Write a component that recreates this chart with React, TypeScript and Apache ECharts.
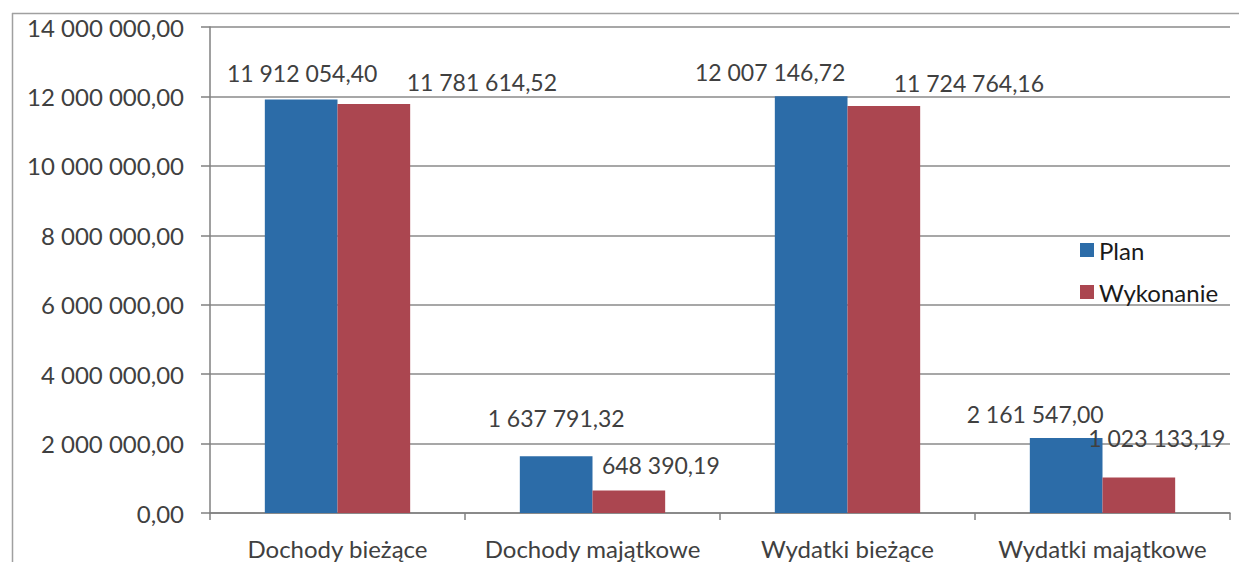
import React, { useEffect, useRef } from "react";
import * as echarts from "echarts";

const categories = ["Dochody bieżące", "Dochody majątkowe", "Wydatki bieżące", "Wydatki majątkowe"];
const planValues = [11912054.4, 1637791.32, 12007146.72, 2161547.0];
const wykonanieValues = [11781614.52, 648390.19, 11724764.16, 1023133.19];
const seriesNames = ["Plan", "Wykonanie"];

// label placement (offsets in px from default "top" position)
const planOffsets = [[1, -10], [0, -22], [-41, -8], [-31, -7]];
const wykOffsets = [[108, -6], [32, -9], [85, -6], [18, -23]];

const FONT = "Lato";
const TEXT = "#404040";

function fmt(v: number): string {
  const fixed = Math.abs(v).toFixed(2);
  const [intPart, dec] = fixed.split(".");
  const withSpaces = intPart.replace(/\B(?=(\d{3})+(?!\d))/g, " ");
  return (v < 0 ? "-" : "") + withSpaces + "," + dec;
}

export default function App() {
  const ref = useRef<HTMLDivElement>(null);
  useEffect(() => {
    if (!ref.current) return;
    const chart = echarts.init(ref.current, null, { renderer: "svg" });
    const mk = (vals: number[], offs: number[][]) =>
      vals.map((v, i) => ({ value: v, label: { offset: offs[i] } }));
    const labelStyle = {
      show: true,
      position: "top",
      fontFamily: FONT,
      fontSize: 23,
      color: TEXT,
      formatter: (p: any) => fmt(p.value),
    };
    chart.setOption({
      animation: false,
      textStyle: { fontFamily: FONT },
      graphic: [
        { type: "line", shape: { x1: 12, y1: 13.5, x2: 1239, y2: 13.5 }, style: { stroke: "#a0a0a0", lineWidth: 1.5 } },
        { type: "line", shape: { x1: 12.5, y1: 13, x2: 12.5, y2: 562 }, style: { stroke: "#a0a0a0", lineWidth: 1.5 } },
      ],
      legend: {
        orient: "vertical",
        left: 1075,
        top: 233,
        itemWidth: 14,
        itemHeight: 14,
        itemGap: 18,
        icon: "rect",
        textStyle: { fontFamily: FONT, fontSize: 24, color: "#1a1a1a" },
        data: seriesNames,
      },
      grid: { left: 210, right: 9, top: 27, bottom: 49, containLabel: false },
      xAxis: {
        type: "category",
        data: categories,
        axisLine: { lineStyle: { color: "#808080", width: 1.5 } },
        axisTick: { show: true, length: 7, lineStyle: { color: "#808080", width: 1.5 } },
        axisLabel: { fontFamily: FONT, fontSize: 24, color: TEXT, margin: 23, interval: 0, hideOverlap: false },
      },
      yAxis: {
        type: "value",
        min: 0,
        max: 14000000,
        interval: 2000000,
        axisLine: { show: true, lineStyle: { color: "#808080", width: 1.5 } },
        axisTick: { show: true, length: 9, lineStyle: { color: "#808080", width: 1.5 } },
        splitLine: { lineStyle: { color: "#8a8a8a", width: 1.5 } },
        axisLabel: { fontFamily: FONT, fontSize: 24, color: TEXT, margin: 26, formatter: (v: number) => fmt(v) },
      },
      series: [
        {
          name: seriesNames[0],
          type: "bar",
          data: mk(planValues, planOffsets),
          barGap: "0%",
          barCategoryGap: "43%",
          itemStyle: { color: "#2c6ca8" },
          label: labelStyle,
        },
        {
          name: seriesNames[1],
          type: "bar",
          data: mk(wykonanieValues, wykOffsets),
          barGap: "0%",
          barCategoryGap: "43%",
          itemStyle: { color: "#ab4650" },
          label: labelStyle,
        },
      ],
    });
    return () => chart.dispose();
  }, []);
  return (
    <div
      ref={ref}
      style={{ position: "fixed", left: 0, top: 0, width: 1239, height: 562, background: "#fff" }}
    />
  );
}
